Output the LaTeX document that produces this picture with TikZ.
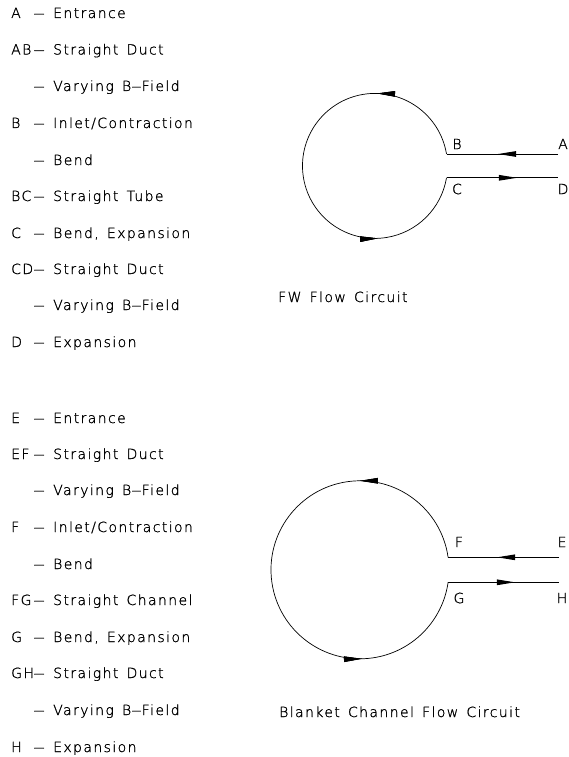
\documentclass[tikz,border=0pt]{standalone}
\usepackage{fontspec}
\setmainfont{DejaVu Sans ExtraLight}[LetterSpace=10,WordSpace=1.4,FakeBold=1.2]
\usetikzlibrary{arrows.meta,decorations.markings}

% one legend line: key letters, a long dash, description
\newcommand\legdash{\scalebox{1.7}[1]{–}}
\newcommand\legline[2]{\makebox[22pt][l]{#1}\makebox[20pt][l]{\legdash}#2}
\newcommand\bfield{B\scalebox{1.5}[1]{–}Field}

\begin{document}
\begin{tikzpicture}[x=1pt,y=-1pt,line join=round,
  txt/.style={anchor=base west,inner sep=0pt,font=\fontsize{14}{16}\selectfont},
  lab/.style={anchor=center,inner sep=0pt,font=\fontsize{14}{16}\selectfont},
  loopline/.style={line width=0.7pt},
  duct/.style={line width=1pt},
  flowmark/.style={postaction={decorate},decoration={markings,
    mark=at position #1 with {\arrow{Triangle[length=18pt,width=5.5pt]}}}}]
\useasboundingbox (0,0) rectangle (569,757);

% ---- legend, first wall circuit
\node[txt] (k1)  at (11,18)   {\legline{A}{Entrance}};
\node[txt] (k2)  at (11,54.5) {\legline{AB}{Straight Duct}};
\node[txt] (k3)  at (11,91)   {\legline{}{Varying \bfield}};
\node[txt] (k4)  at (11,128)  {\legline{B}{Inlet/Contraction}};
\node[txt] (k5)  at (11,165)  {\legline{}{Bend}};
\node[txt] (k6)  at (11,201)  {\legline{BC}{Straight Tube}};
\node[txt] (k7)  at (11,238)  {\legline{C}{Bend, Expansion}};
\node[txt] (k8)  at (11,274)  {\legline{CD}{Straight Duct}};
\node[txt] (k9)  at (11,310)  {\legline{}{Varying \bfield}};
\node[txt] (k10) at (11,347)  {\legline{D}{Expansion}};

% ---- legend, blanket circuit
\node[txt] (k11) at (11,423)  {\legline{E}{Entrance}};
\node[txt] (k12) at (11,459)  {\legline{EF}{Straight Duct}};
\node[txt] (k13) at (11,495)  {\legline{}{Varying \bfield}};
\node[txt] (k14) at (11,532)  {\legline{F}{Inlet/Contraction}};
\node[txt] (k15) at (11,569)  {\legline{}{Bend}};
\node[txt] (k16) at (11,605)  {\legline{FG}{Straight Channel}};
\node[txt] (k17) at (11,642)  {\legline{G}{Bend, Expansion}};
\node[txt] (k18) at (11,678)  {\legline{GH}{Straight Duct}};
\node[txt] (k19) at (11,715)  {\legline{}{Varying \bfield}};
\node[txt] (k20) at (11,752)  {\legline{H}{Expansion}};

% ---- FW flow circuit
\coordinate (A) at (558,154);
\coordinate (B) at (446.5,154);
\coordinate (C) at (446.5,177.8);
\coordinate (D) at (558,177.8);
\draw[duct,flowmark=0.538] (A) -- (B);
\draw[loopline,flowmark=0.2315,flowmark=0.771]
  (B) arc[start angle=-9.45,end angle=-350.55,radius=72.5];
\draw[duct,flowmark=0.632] (C) -- (D);
\node[lab] (lA) at (563,144) {A};
\node[lab] (lB) at (457,144) {B};
\node[lab] (lC) at (457,189) {C};
\node[lab] (lD) at (563,189) {D};
\node[txt] (fw) at (278,302) {FW Flow Circuit};

% ---- blanket channel flow circuit
\coordinate (E) at (559,557.3);
\coordinate (F) at (448.1,557.3);
\coordinate (G) at (448.1,582.3);
\coordinate (H) at (559,582.3);
\draw[duct,flowmark=0.559] (E) -- (F);
\draw[loopline,flowmark=0.2383,flowmark=0.7655]
  (F) arc[start angle=-8.07,end angle=-351.93,radius=89];
\draw[duct,flowmark=0.603] (G) -- (H);
\node[lab] (lE) at (562,542) {E};
\node[lab] (lF) at (459,542) {F};
\node[lab] (lG) at (459,598) {G};
\node[lab] (lH) at (562,598) {H};
\node[txt] (bc) at (279,717) {Blanket Channel Flow Circuit};
\end{tikzpicture}
\end{document}
